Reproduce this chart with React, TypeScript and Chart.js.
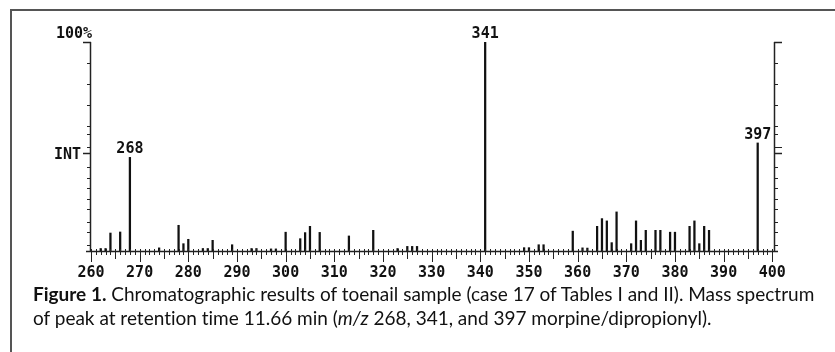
import React, { useEffect, useRef } from "react";
import { Chart, registerables } from "chart.js";

Chart.register(...registerables);

// m/z values of the spectrum lines
const mzValues = [
  262, 263, 264, 266, 268, 274, 278, 279, 280, 283, 284, 285, 289, 293, 294, 297, 298,
  300, 303, 304, 305, 307, 313, 318, 323, 325, 326, 327, 341, 349, 350, 352, 353,
  359, 361, 362, 364, 365, 366, 367, 368, 371, 372, 373, 374, 376, 377, 379, 380,
  383, 384, 385, 386, 387, 397,
];
// relative intensities (%)
const intensities = [
  1.2, 1.2, 8.6, 9.1, 44.8, 1.5, 12.3, 3.5, 5.6, 1.2, 1.2, 5.1, 3.0, 1.2, 1.2, 1.0, 1.0,
  9.0, 5.9, 8.8, 11.8, 8.9, 7.2, 9.9, 1.2, 2.2, 2.2, 2.2, 100, 1.6, 1.6, 3.0, 3.0,
  9.5, 1.5, 1.4, 11.8, 15.5, 14.4, 4.0, 18.7, 3.5, 14.4, 5.1, 9.9, 9.9, 9.9, 9.0, 9.0,
  11.8, 14.4, 3.5, 11.8, 9.9, 51.7,
];
const labeledPeaks = ["268", "341", "397"];
const xTickLabels = [260, 270, 280, 290, 300, 310, 320, 330, 340, 350, 360, 370, 380, 390, 400];
const yTickValues = [90, 80, 70, 60, 56, 50, 40, 35, 30, 25, 20, 14, 9, 3];
const intLevel = 47;
const topLabel = "100%";
const intLabel = "INT";

const MONO = '"DejaVu Sans Mono", "Liberation Mono", monospace';

const spectrumAxes = {
  id: "spectrumAxes",
  afterDatasetsDraw(chart: any) {
    const { ctx, scales } = chart;
    const x = scales.x;
    const y = scales.y;
    const base = Math.round(y.getPixelForValue(0));
    const top = Math.round(y.getPixelForValue(100));
    const xl = Math.round(x.getPixelForValue(x.min));
    const xr = Math.round(x.getPixelForValue(x.max));
    ctx.save();
    ctx.strokeStyle = "#222";
    ctx.lineWidth = 1;
    ctx.lineCap = "butt";
    const line = (x1: number, y1: number, x2: number, y2: number, w = 1) => {
      ctx.lineWidth = w;
      ctx.beginPath();
      ctx.moveTo(x1, y1);
      ctx.lineTo(x2, y2);
      ctx.stroke();
    };
    // baseline
    const bx1 = Math.round(x.getPixelForValue(259));
    const bx2 = Math.round(x.getPixelForValue(401.2));
    line(bx1, base + 0.5, bx2, base + 0.5, 1.5);
    // x ticks
    for (let v = 260; v <= 400; v++) {
      const px = Math.round(x.getPixelForValue(v)) + 0.5;
      let down = 4;
      if (v % 10 === 0) down = 11;
      else if (v % 5 === 0) down = 8;
      line(px, base - 2, px, base + down, 1);
    }
    // vertical axes
    line(xl + 0.5, top, xl + 0.5, base + 1, 1.5);
    line(xr + 0.5, top, xr + 0.5, base + 1, 1.5);
    // caps at 100%
    line(xl - 7, top + 0.5, xl + 1, top + 0.5, 1.5);
    line(xr, top + 0.5, xr + 8, top + 0.5, 1.5);
    // y ticks
    yTickValues.forEach((v) => {
      const py = Math.round(y.getPixelForValue(v)) + 0.5;
      line(xl - 3, py, xl, py, 1);
      const long = v === 50;
      line(xr + 1, py, xr + (long ? 8 : 4), py, 1);
    });
    const pi = Math.round(y.getPixelForValue(intLevel)) + 0.5;
    line(xl - 7, pi, xl, pi, 1.5);
    line(xr + 1, pi, xr + 8, pi, 1.5);

    // texts
    ctx.fillStyle = "#111";
    ctx.font = `bold 15px ${MONO}`;
    ctx.textBaseline = "alphabetic";
    ctx.textAlign = "right";
    ctx.fillText(topLabel, xl + 2, top - 4);
    ctx.fillText(intLabel, xl - 9, pi + 5);
    ctx.textAlign = "center";
    labeledPeaks.forEach((lab) => {
      const m = Number(lab);
      const idx = mzValues.indexOf(m);
      if (idx < 0) return;
      const px = x.getPixelForValue(m);
      const py = y.getPixelForValue(intensities[idx]);
      ctx.fillText(lab, px, py - 4);
    });
    ctx.restore();
  },
};

export default function App() {
  const canvasRef = useRef<HTMLCanvasElement | null>(null);

  useEffect(() => {
    document.body.style.margin = "0";
    const canvas = canvasRef.current;
    if (!canvas) return;
    const chart = new Chart(canvas, {
      type: "bar",
      data: {
        datasets: [
          {
            data: mzValues.map((m, i) => ({ x: m, y: intensities[i] })),
            backgroundColor: "#111",
            borderWidth: 0,
            barThickness: 1.6,
          } as any,
        ],
      },
      options: {
        animation: false,
        responsive: false,
        devicePixelRatio: 1,
        layout: { padding: { left: 90, right: 61, top: 42, bottom: 0 } },
        plugins: { legend: { display: false }, tooltip: { enabled: false } },
        scales: {
          x: {
            type: "linear",
            min: 259.8,
            max: 400.35,
            offset: false,
            grid: { display: false, drawTicks: false },
            border: { display: false },
            ticks: {
              autoSkip: false,
              maxRotation: 0,
              padding: 13,
              color: "#111",
              font: { family: MONO, size: 15, weight: "bold" },
            },
            afterBuildTicks: (s: any) => {
              s.ticks = xTickLabels.map((v) => ({ value: v }));
            },
            afterFit: (s: any) => {
              s.height = 101;
            },
          },
          y: {
            display: false,
            min: 0,
            max: 100,
          },
        },
      } as any,
      plugins: [spectrumAxes],
    });
    return () => chart.destroy();
  }, []);

  return (
    <div style={{ position: "relative", width: 835, height: 352, overflow: "hidden", background: "#fff" }}>
      <canvas ref={canvasRef} width={835} height={352} style={{ position: "absolute", left: 0, top: 0 }} />
      <div style={{ position: "absolute", left: 10, top: 9, width: 825, height: 2, background: "#555" }} />
      <div style={{ position: "absolute", left: 10, top: 9, width: 2, height: 343, background: "#555" }} />
      <div
        style={{
          position: "absolute",
          left: 33,
          top: 282,
          width: 800,
          fontFamily: "Lato, 'Open Sans', sans-serif",
          fontSize: 19,
          lineHeight: "24px",
          color: "#111",
          whiteSpace: "nowrap",
          fontVariantLigatures: "none",
        }}
      >
        <b>Figure 1.</b> Chromatographic results of toenail sample (case 17 of Tables I and II). Mass spectrum
        <br />
        of peak at retention time 11.66 min (<i>m/z</i> 268, 341, and 397 morpine/dipropionyl).
      </div>
    </div>
  );
}
